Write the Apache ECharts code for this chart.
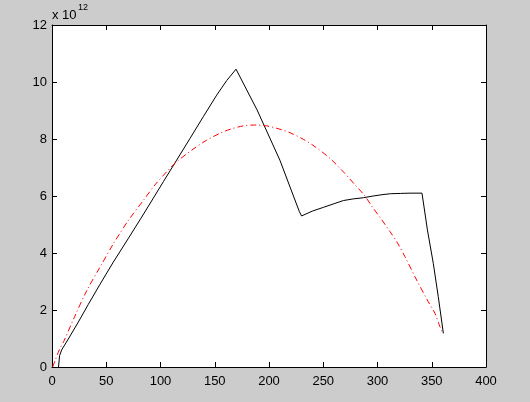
<!DOCTYPE html>
<html>
<head>
<meta charset="utf-8">
<script src="https://cdn.jsdelivr.net/npm/echarts@6/dist/echarts.min.js"></script>
<style>
html,body{margin:0;padding:0;background:#cccccc;}
#chart{width:530px;height:402px;}
</style>
</head>
<body>
<div id="chart"></div>
<script>
// values in units of 10^12
var blackX = [6, 7, 8.9, 15, 24.3, 33.5, 44.2, 56.5, 70.5, 82, 93, 102.6, 114.9, 127.2, 139.4, 151.8, 161, 169.6, 189, 210, 228, 230, 240, 250, 260, 268.5, 278, 287, 296, 305, 312, 321, 330, 341, 346, 351.4, 356, 360.7];
var blackY = [0, 0.4, 0.6, 0.98, 1.58, 2.2, 2.9, 3.68, 4.52, 5.22, 5.9, 6.5, 7.26, 8.02, 8.78, 9.54, 10.05, 10.45, 9.02, 7.26, 5.45, 5.3, 5.47, 5.6, 5.73, 5.84, 5.9, 5.94, 6.0, 6.05, 6.08, 6.09, 6.1, 6.1, 4.81, 3.64, 2.47, 1.18];
var redX = [0.6, 3.1, 6.7, 10.7, 20.9, 32.3, 44.5, 56.8, 70.7, 84.5, 94.9, 107.2, 114.9, 128.8, 142.6, 154.8, 164.1, 176.3, 186.5, 197.9, 208.6, 219.4, 231.6, 242.4, 256.2, 268.5, 279.3, 287.6, 296.1, 302.9, 311.5, 317.7, 325.3, 336.1, 346.8, 353, 357.6, 360.4];
var redY = [0, 0.25, 0.6, 0.89, 1.77, 2.7, 3.52, 4.34, 5.16, 5.86, 6.39, 6.91, 7.2, 7.61, 7.96, 8.2, 8.34, 8.46, 8.49, 8.46, 8.36, 8.22, 7.99, 7.73, 7.32, 6.85, 6.39, 6.04, 5.57, 5.22, 4.75, 4.4, 3.87, 3.05, 2.29, 1.88, 1.41, 1.19];
var xTicks = [0, 50, 100, 150, 200, 250, 300, 350, 400];
var yTicks = [0, 2, 4, 6, 8, 10, 12];
var exponentText = 'x 10';
var exponentSup = '12';

function zip(a, b) { return a.map(function (v, i) { return [v, b[i]]; }); }

var chart = echarts.init(document.getElementById('chart'));
var font = 'Liberation Sans, Arial, Helvetica, sans-serif';
var axisCommon = {
  type: 'value',
  axisLine: { show: true, onZero: false, lineStyle: { color: '#000', width: 1 } },
  axisTick: { show: true, inside: true, length: 5, lineStyle: { color: '#000' } },
  splitLine: { show: false }
};
function mk(extra) { return Object.assign({}, JSON.parse(JSON.stringify(axisCommon)), extra); }

chart.setOption({
  backgroundColor: '#cccccc',
  animation: false,
  grid: { left: 52, top: 25, right: 44, bottom: 35, show: true, backgroundColor: '#ffffff', borderWidth: 0 },
  xAxis: [
    mk({ position: 'bottom', min: xTicks[0], max: xTicks[xTicks.length - 1], interval: 50,
      axisLabel: { show: true, color: '#000', fontSize: 13, fontFamily: font, margin: 8 } }),
    mk({ position: 'top', min: xTicks[0], max: xTicks[xTicks.length - 1], interval: 50,
      axisLabel: { show: false } })
  ],
  yAxis: [
    mk({ position: 'left', min: yTicks[0], max: yTicks[yTicks.length - 1], interval: 2,
      axisLabel: { show: true, color: '#000', fontSize: 13, fontFamily: font, margin: 5 } }),
    mk({ position: 'right', min: yTicks[0], max: yTicks[yTicks.length - 1], interval: 2,
      axisLabel: { show: false } })
  ],
  graphic: [
    { type: 'text', left: 52, top: 9, style: { text: exponentText, fill: '#000', font: '13px ' + font } },
    { type: 'text', left: 78, top: 3, style: { text: exponentSup, fill: '#000', font: '9px ' + font } }
  ],
  series: [
    { type: 'line', xAxisIndex: 0, yAxisIndex: 0, data: zip(blackX, blackY), showSymbol: false,
      lineStyle: { color: '#000000', width: 1 }, z: 3 },
    { type: 'line', xAxisIndex: 0, yAxisIndex: 0, data: zip(redX, redY), showSymbol: false, smooth: 0.3,
      lineStyle: { color: '#ff0000', width: 1, type: [6, 3, 1, 3] }, z: 4 }
  ]
});
</script>
</body>
</html>
